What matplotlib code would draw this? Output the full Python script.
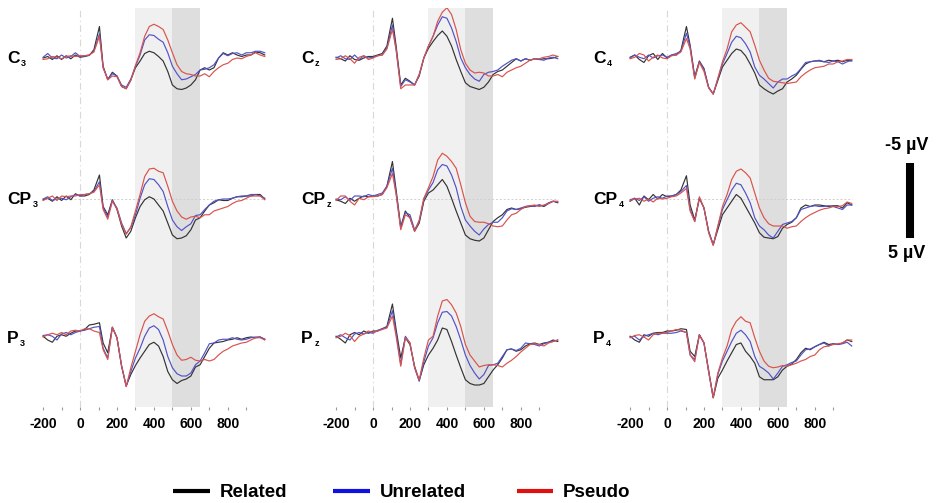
import numpy as np
import matplotlib
matplotlib.use("Agg")
import matplotlib.pyplot as plt
from matplotlib.lines import Line2D

# ---------------- data (µV, positive plotted downward) ----------------
times = [-200, -175, -150, -125, -100, -75, -50, -25, 0,
         25, 50, 75, 105, 125, 150, 175, 200, 225, 250, 275, 300,
         325, 350, 375, 400, 425, 450, 475, 500, 525, 550, 575, 600,
         625, 650, 675, 700, 725, 750, 775, 800, 825, 850, 875, 900,
         925, 950, 975, 1000]

C3_related = [0, -0.2, 0.2, -0.3, 0.2, -0.3, 0.1, -0.4, -0.1,
              -0.2, -0.35, -1.1, -4.2, 1.1, 2.9, 1.9, 2.4,
              3.8, 4.1, 2.9, 1.3, 0.4, -0.6, -0.9, -0.7,
              -0.2, 0.4, 1.8, 3.6, 4.1, 4.2, 4.0, 3.6,
              2.9, 1.6, 1.3, 1.6, 1.3, 0.0, -0.7, -0.4,
              -0.7, -0.4, -0.2, -0.4, -0.4, -0.8, -0.7, -0.4]
C3_unrelated = [-0.1, -0.6, 0.0, 0.1, -0.4, 0.0, -0.2, -0.7, -0.2,
                -0.3, -0.4, -0.9, -3.2, 1.3, 2.8, 2.1, 2.4,
                3.6, 3.9, 2.8, 1.1, -0.4, -2.4, -3.1, -3.0,
                -2.5, -2.1, -0.7, 1.1, 2.1, 2.9, 2.8, 2.5,
                2.2, 1.6, 1.5, 1.3, 0.9, 0.0, -0.6, -0.3,
                -0.6, -0.7, -0.4, -0.7, -0.7, -0.9, -0.9, -0.7]
C3_pseudo = [0.2, 0.1, -0.2, -0.1, 0.1, -0.2, -0.3, -0.2, -0.3,
             -0.3, -0.4, -0.8, -2.9, 1.3, 2.9, 2.4, 2.5,
             3.8, 4.1, 3.0, 1.0, -0.7, -2.9, -4.2, -4.5,
             -4.2, -3.8, -2.4, -0.7, 0.9, 1.8, 2.1, 2.2,
             2.4, 2.4, 2.1, 2.5, 1.8, 1.3, 0.9, 0.7,
             0.2, 0.0, 0.1, -0.2, -0.4, -0.7, -0.4, -0.2]

CP3_related = [0.1, -0.1, 0.3, -0.3, 0.2, -0.4, 0.1, -0.7, -0.4,
               -0.4, -0.6, -1.2, -3.2, 1.0, 2.1, 0.1, 1.4,
               3.6, 5.2, 4.3, 2.5, 1.0, 0.1, -0.3, 0.0,
               0.8, 1.6, 3.2, 4.8, 5.3, 5.2, 4.9, 4.1,
               2.8, 2.5, 1.6, 0.8, 0.5, 0.1, 0.2, 0.2,
               -0.1, -0.3, -0.3, -0.4, -0.4, -0.6, -0.6, 0.0]
CP3_unrelated = [0.0, -0.3, 0.2, 0.0, -0.1, 0.1, -0.3, -0.6, -0.4,
                 -0.6, -0.7, -1.0, -2.3, 1.2, 2.4, 0.2, 1.2,
                 3.2, 4.6, 3.8, 2.1, -0.1, -1.9, -2.7, -2.6,
                 -1.9, -1.0, 1.0, 2.8, 3.7, 4.2, 3.7, 3.3,
                 2.2, 2.1, 1.4, 0.8, 0.3, 0.1, 0.0, 0.0,
                 -0.1, -0.3, -0.4, -0.4, -0.6, -0.6, -0.4, -0.1]
CP3_pseudo = [0.2, -0.1, -0.4, 0.2, -0.4, -0.3, -0.4, -0.4, -0.6,
              -0.6, -0.7, -0.9, -1.9, 1.4, 2.7, 0.3, 1.3,
              3.4, 4.7, 3.7, 1.6, -0.6, -3.0, -4.0, -4.1,
              -3.7, -3.5, -1.7, 0.3, 1.6, 2.4, 2.7, 2.4,
              2.3, 2.5, 2.1, 2.1, 1.6, 1.4, 1.2, 1.0,
              0.6, 0.3, 0.2, -0.1, -0.4, -0.4, -0.4, 0.1]

P3_related = [-0.1, 0.4, 0.7, -0.1, -0.3, -0.1, -0.5, -0.8, -0.8,
              -1.0, -1.6, -1.7, -1.9, 0.8, 2.1, -1.3, 0.1,
              3.9, 6.5, 5.0, 3.8, 2.8, 1.9, 1.0, 0.7,
              1.2, 2.6, 4.6, 5.7, 6.2, 5.8, 5.6, 5.2,
              4.0, 3.7, 2.6, 1.5, 0.8, 0.7, 0.6, 0.4,
              0.3, 0.1, 0.3, 0.1, 0.0, 0.1, 0.0, 0.3]
P3_unrelated = [-0.2, -0.3, -0.1, 0.4, -0.4, -0.6, -0.3, -0.6, -0.8,
                -0.9, -1.1, -1.3, -1.4, 1.5, 2.8, -1.3, 0.1,
                3.9, 6.6, 4.6, 2.8, 1.5, -0.1, -1.2, -1.5,
                -1.0, 0.4, 2.6, 4.1, 4.9, 5.2, 5.2, 4.8,
                3.7, 3.2, 2.1, 0.9, 0.8, 0.4, 0.3, 0.3,
                0.1, 0.3, 0.4, 0.3, 0.1, 0.0, 0.0, 0.3]
P3_pseudo = [0.0, -0.3, -0.5, -0.3, -0.6, -0.3, -0.8, -0.9, -0.8,
             -1.1, -1.1, -0.8, -0.6, 1.7, 3.0, -1.3, 0.1,
             3.8, 6.6, 4.1, 1.9, -0.3, -2.1, -2.8, -3.1,
             -2.7, -2.4, -0.8, 1.0, 2.4, 3.1, 3.0, 2.7,
             3.1, 3.2, 3.0, 3.2, 3.0, 2.4, 1.9, 1.6,
             1.2, 1.0, 0.8, 0.7, 0.4, 0.1, 0.1, 0.4]

Cz_related = [-0.1, 0.1, 0.4, -0.3, 0.2, 0.3, 0.0, -0.2, -0.2,
              -0.4, -0.6, -1.6, -5.3, -1.6, 3.6, 2.7, 3.1,
              3.6, 2.4, 0.0, -1.3, -2.2, -3.0, -3.6, -2.9,
              -1.6, 0.2, 1.8, 3.3, 3.8, 4.0, 4.2, 3.9,
              3.2, 2.2, 1.8, 1.6, 1.1, 0.6, 0.1, 0.4,
              0.1, 0.3, 0.1, 0.2, 0.1, 0.1, 0.0, -0.2]
Cz_unrelated = [0.0, -0.3, 0.1, 0.2, -0.4, 0.2, -0.3, 0.0, -0.1,
                -0.3, -0.4, -1.3, -4.4, -1.1, 3.8, 2.9, 3.2,
                3.6, 2.2, 0.0, -1.6, -2.9, -4.4, -5.5, -5.3,
                -4.0, -2.2, 0.0, 1.3, 2.2, 2.8, 3.1, 2.2,
                1.9, 1.8, 1.6, 1.1, 0.7, 0.3, 0.1, 0.4,
                0.1, 0.3, 0.1, 0.2, 0.3, 0.0, -0.1, 0.1]
Cz_pseudo = [0.2, 0.1, -0.3, 0.1, 0.7, -0.1, -0.3, 0.2, 0.0,
             -0.3, -0.4, -1.2, -3.8, -1.1, 4.1, 3.6, 3.6,
             3.6, 2.2, 0.0, -1.6, -2.9, -4.9, -6.1, -6.7,
             -5.8, -3.8, -1.1, 0.7, 1.6, 2.0, 1.9, 2.0,
             2.4, 2.4, 2.2, 2.5, 1.9, 1.6, 1.3, 1.1,
             0.7, 0.3, 0.1, 0.1, -0.1, -0.2, -0.4, -0.2]

CPz_related = [0.1, 0.3, 0.6, -0.1, 0.3, -0.1, -0.4, -0.3, -0.4,
               -0.4, -0.6, -1.7, -5.0, -1.2, 3.7, 1.6, 2.5,
               4.3, 3.2, 0.3, -0.8, -1.2, -1.9, -2.6, -1.7,
               -0.1, 1.6, 3.2, 4.8, 5.3, 5.5, 5.6, 5.2,
               4.1, 3.0, 2.5, 2.1, 1.4, 1.2, 1.4, 1.3,
               1.1, 1.0, 0.9, 0.8, 1.0, 0.6, 0.3, 0.5]
CPz_unrelated = [0.0, 0.1, -0.3, 0.2, -0.4, -0.4, -0.3, -0.6, -0.4,
                 -0.6, -0.8, -1.7, -4.1, -0.8, 3.9, 1.8, 2.1,
                 4.1, 3.0, 0.0, -1.2, -2.2, -3.9, -4.6, -4.4,
                 -3.2, -1.5, 1.0, 2.8, 3.6, 4.3, 4.8, 4.0,
                 3.4, 3.1, 3.1, 2.5, 1.6, 1.3, 1.4, 1.2,
                 1.0, 0.9, 1.0, 0.8, 0.9, 0.5, 0.3, 0.4]
CPz_pseudo = [0.2, -0.4, -0.4, 0.3, 0.8, -0.1, 0.1, -0.3, -0.3,
              -0.4, -0.6, -1.5, -3.4, -0.6, 4.1, 2.1, 2.5,
              4.3, 2.8, -0.1, -1.5, -3.0, -5.2, -6.1, -5.7,
              -5.0, -4.1, -1.9, 0.5, 2.3, 3.0, 3.1, 3.1,
              3.3, 3.6, 3.7, 3.6, 2.8, 2.1, 1.9, 1.4,
              1.0, 0.9, 0.8, 1.0, 0.8, 0.6, 0.3, 0.3]

Pz_related = [-0.1, 0.3, 0.8, -0.3, -0.6, -0.3, -0.8, -0.5, -0.8,
              -0.8, -1.1, -1.4, -4.4, -1.0, 2.8, 0.1, 1.0,
              3.9, 5.8, 3.7, 2.4, 1.5, 0.4, -1.2, -1.0,
              0.6, 2.4, 4.1, 5.7, 6.2, 6.4, 6.4, 6.2,
              5.3, 4.4, 3.7, 2.8, 1.7, 1.6, 1.9, 1.7,
              1.2, 0.9, 0.8, 1.0, 0.8, 0.7, 0.4, 0.6]
Pz_unrelated = [0.0, -0.3, 0.1, 0.4, -0.4, -0.6, -0.4, -0.6, -0.5,
                -0.9, -1.1, -1.3, -3.5, -0.5, 3.7, -0.1, 0.8,
                4.1, 5.9, 3.3, 1.2, 0.1, -1.9, -3.3, -3.4,
                -2.8, -1.4, 0.4, 2.4, 3.8, 4.8, 5.6, 5.0,
                3.8, 3.7, 3.5, 2.6, 1.7, 1.6, 1.8, 1.5,
                0.8, 0.9, 1.0, 1.2, 0.9, 0.7, 0.6, 0.4]
Pz_pseudo = [0.1, -0.1, -0.5, -0.2, 0.6, -0.1, -0.4, -0.8, -0.6,
             -0.8, -1.0, -1.2, -2.8, -0.1, 3.9, 0.1, 0.8,
             4.1, 5.7, 2.8, 0.4, -0.1, -2.8, -4.8, -5.0,
             -4.3, -3.2, -1.4, 1.0, 2.4, 3.2, 4.0, 3.8,
             3.7, 3.7, 3.8, 4.0, 3.5, 3.1, 2.6, 2.0,
             1.5, 1.0, 0.9, 1.0, 1.2, 0.8, 0.6, 0.4]

C4_related = [-0.1, -0.4, 0.2, 0.6, -0.3, -0.6, 0.2, -0.6, 0.0,
              -0.4, -0.4, -1.0, -4.2, -1.7, 2.5, 0.4, 1.4,
              3.9, 4.8, 3.0, 1.2, 0.3, -0.6, -1.2, -1.0,
              -0.3, 0.8, 2.0, 3.6, 4.1, 4.5, 4.8, 4.4,
              4.1, 3.2, 2.8, 2.3, 1.5, 0.8, 0.5, 0.4,
              0.4, 0.5, 0.3, 0.4, 0.3, 0.5, 0.3, 0.4]
C4_unrelated = [0.0, -0.4, -0.1, 0.1, -0.4, 0.0, -0.3, -0.4, -0.1,
                -0.4, -0.6, -0.9, -3.3, -1.5, 2.7, 0.5, 1.5,
                3.9, 4.8, 2.8, 0.8, -0.6, -2.1, -2.9, -2.7,
                -1.9, -0.8, 1.2, 2.3, 2.8, 3.4, 4.0, 3.2,
                2.8, 2.8, 2.4, 2.1, 1.4, 0.6, 0.5, 0.4,
                0.3, 0.5, 0.6, 0.4, 0.5, 0.8, 0.5, 0.3]
C4_pseudo = [0.1, -0.1, -0.6, -0.4, 0.4, -0.1, -0.4, 0.0, 0.1,
             -0.3, -0.4, -0.8, -2.6, -1.2, 2.8, 0.6, 1.8,
             4.0, 4.8, 2.7, 0.5, -1.2, -3.5, -4.4, -4.7,
             -4.1, -3.5, -1.7, 0.3, 1.6, 2.7, 3.1, 3.2,
             3.3, 3.4, 3.3, 3.2, 2.5, 2.0, 1.6, 1.3,
             1.2, 1.1, 0.8, 0.8, 0.5, 0.4, 0.2, 0.2]

CP4_related = [0.3, -0.1, 0.8, -0.4, 0.1, -0.6, 0.0, -0.6, -0.3,
               -0.4, -0.6, -1.2, -3.1, 0.8, 2.8, -0.1, 1.2,
               4.3, 6.1, 4.1, 2.1, 1.2, 0.3, -0.6, -0.1,
               1.0, 2.1, 3.2, 4.5, 5.1, 5.2, 5.3, 5.0,
               3.9, 3.4, 3.1, 2.5, 1.2, 0.8, 1.0, 0.8,
               0.8, 0.9, 1.0, 0.9, 0.9, 1.2, 0.5, 0.8]
CP4_unrelated = [0.1, -0.1, 0.2, -0.3, 0.3, -0.1, -0.3, -0.1, -0.4,
                 -0.4, -0.6, -1.0, -1.8, 1.4, 3.0, -0.1, 1.2,
                 4.3, 6.1, 3.7, 1.4, 0.1, -1.2, -2.1, -1.9,
                 -0.8, 0.5, 2.5, 3.6, 4.1, 4.8, 5.2, 4.3,
                 3.4, 3.2, 3.0, 2.5, 1.4, 1.2, 1.0, 0.9,
                 1.0, 1.0, 0.9, 1.0, 1.2, 1.4, 0.8, 0.8]
CP4_pseudo = [0.2, 0.0, -0.1, 0.3, 0.0, 0.4, -0.1, 0.0, -0.1,
              -0.3, -0.4, -0.8, -1.4, 1.6, 3.0, -0.3, 1.2,
              4.5, 6.2, 3.6, 1.0, -0.6, -2.6, -3.7, -4.0,
              -3.5, -2.8, -0.8, 1.2, 2.5, 3.3, 3.6, 3.6,
              3.6, 3.9, 3.7, 3.6, 3.0, 2.5, 2.1, 1.8,
              1.5, 1.3, 1.2, 1.0, 1.0, 0.9, 0.4, 0.6]

P4_related = [-0.1, 0.4, 0.7, -0.3, -0.1, -0.5, -0.6, -0.6, -0.8,
              -0.8, -0.9, -1.1, -1.0, 1.9, 2.6, -0.3, 0.8,
              4.4, 8.1, 5.5, 4.4, 3.2, 2.1, 1.0, 0.8,
              1.9, 2.6, 3.5, 5.3, 5.7, 5.7, 5.7, 5.3,
              4.4, 3.9, 3.6, 3.0, 2.1, 1.5, 1.7, 1.3,
              1.0, 0.7, 1.0, 0.9, 1.0, 0.8, 0.4, 0.6]
P4_unrelated = [0.0, -0.1, 0.4, -0.1, -0.3, -0.5, -0.3, -0.5, -0.5,
                -0.5, -0.6, -0.8, -0.6, 2.4, 3.0, -0.3, 0.8,
                4.6, 8.1, 5.0, 3.2, 1.9, 0.6, -0.5, -0.9,
                -0.3, 0.6, 2.6, 3.9, 4.3, 4.8, 5.6, 4.8,
                3.9, 3.7, 3.4, 3.2, 2.4, 1.7, 1.6, 1.3,
                1.0, 0.8, 1.2, 0.9, 1.0, 0.9, 0.7, 1.2]
P4_pseudo = [0.1, -0.2, -0.3, 0.0, 0.4, -0.3, -0.5, -0.5, -0.6,
             -0.8, -1.0, -0.9, -0.6, 2.4, 3.3, -0.3, 0.8,
             4.6, 8.1, 4.8, 2.8, 1.2, -1.0, -2.1, -2.7,
             -2.1, -1.9, 0.1, 1.9, 3.2, 3.9, 4.1, 4.0,
             3.8, 3.9, 3.7, 3.5, 3.2, 3.0, 2.6, 2.4,
             1.7, 1.3, 1.2, 1.0, 0.9, 0.8, 0.4, 0.4]

conditions = ["Related", "Unrelated", "Pseudo"]
columns = [
    [("C", "3", C3_related, C3_unrelated, C3_pseudo),
     ("CP", "3", CP3_related, CP3_unrelated, CP3_pseudo),
     ("P", "3", P3_related, P3_unrelated, P3_pseudo)],
    [("C", "z", Cz_related, Cz_unrelated, Cz_pseudo),
     ("CP", "z", CPz_related, CPz_unrelated, CPz_pseudo),
     ("P", "z", Pz_related, Pz_unrelated, Pz_pseudo)],
    [("C", "4", C4_related, C4_unrelated, C4_pseudo),
     ("CP", "4", CP4_related, CP4_unrelated, CP4_pseudo),
     ("P", "4", P4_related, P4_unrelated, P4_pseudo)],
]
xticks = [-200, 0, 200, 400, 600, 800]
scale_labels = ["-5 µV", "5 µV"]

# ---------------- style ----------------
W, H = 938, 503
plt.rcParams['font.family'] = ['Liberation Sans', 'DejaVu Sans']
plt.rcParams['font.weight'] = 'bold'
plt.rcParams['axes.unicode_minus'] = False
line_colors = ['#333333', '#5252c8', '#d9534c']
legend_colors = ['#000000', '#1010e0', '#e01010']
light_shade = '#f0f0f0'
dark_shade = '#dedede'

fig = plt.figure(figsize=(W / 100, H / 100), dpi=100)
fig.patch.set_facecolor('white')

col_left = [39.4, 332.4, 626.4]
ax_w = 227.2
ax_top, ax_bot = 8, 407
row_base_px = [58, 199, 337]
px_per_uv = 7.5
offsets = [(b - row_base_px[0]) / px_per_uv for b in row_base_px]
y_top = (ax_top - row_base_px[0]) / px_per_uv
y_bot = (ax_bot - row_base_px[0]) / px_per_uv
xlim = (-220, 1010)

axes = []
for ci, col in enumerate(columns):
    ax = fig.add_axes([col_left[ci] / W, (H - ax_bot) / H, ax_w / W, (ax_bot - ax_top) / H])
    axes.append(ax)
    ax.set_xlim(*xlim)
    ax.set_ylim(y_bot, y_top)
    ax.axvspan(300, 500, color=light_shade, lw=0, zorder=0)
    ax.axvspan(500, 650, color=dark_shade, lw=0, zorder=0)
    ax.axvline(0, color='#d8d8d8', lw=0.8, ls=(0, (6, 3, 1, 3)), zorder=1)
    ax.hlines(offsets[1], -200, 1000, color='#cfcfcf', lw=0.7, ls=(0, (2, 2)), zorder=1)
    for ri, (name, sub, rel, unr, pse) in enumerate(col):
        for series, c in zip([rel, unr, pse], line_colors):
            ax.plot(times, np.array(series) + offsets[ri], color=c, lw=0.85, zorder=3)
    for s in ax.spines.values():
        s.set_visible(False)
    ax.set_yticks([])
    ax.set_xticks(xticks)
    ax.set_xticks(np.arange(-200, 1000, 100), minor=True)
    ax.tick_params(axis='x', which='both', length=2, width=0.8, color='#9a9a9a', direction='out')
    ax.tick_params(axis='x', which='major', pad=5, labelsize=10)
    for lab in ax.get_xticklabels():
        lab.set_fontweight('bold')

# channel labels
label_base_y = [63, 204, 343]
label_left = [7, 301, 593]
main_texts = []
for ci, col in enumerate(columns):
    for ri, (name, sub, *_ ) in enumerate(col):
        t = fig.text(label_left[ci] / W, 1 - label_base_y[ri] / H, name,
                     fontsize=12.5, fontweight='bold', ha='left', va='baseline')
        main_texts.append((t, sub, ri))
fig.canvas.draw()
renderer = fig.canvas.get_renderer()
for t, sub, ri in main_texts:
    bb = t.get_window_extent(renderer)
    fig.text((bb.x1 + 1.5) / W, (H - label_base_y[ri] - 3) / H, sub,
             fontsize=6.5, fontweight='bold', ha='left', va='baseline')

# scale bar in right axes data coordinates
axr = axes[2]
axr.plot([1315, 1315], [14, 24], color='black', lw=5.8, solid_capstyle='butt', clip_on=False)
axr.text(1299, 11.7, scale_labels[0], fontsize=13, fontweight='bold', ha='center', va='center', clip_on=False)
axr.text(1299, 26.0, scale_labels[1], fontsize=13, fontweight='bold', ha='center', va='center', clip_on=False)

# legend
leg_lines = [(173, 210), (333, 370), (517, 553)]
leg_text_x = [220, 380, 563]
for (x0, x1), tx, c, lab in zip(leg_lines, leg_text_x, legend_colors, conditions):
    fig.add_artist(Line2D([x0 / W, x1 / W], [1 - 491 / H, 1 - 491 / H], color=c, lw=3.0,
                          transform=fig.transFigure, solid_capstyle='butt'))
    fig.text(tx / W, 1 - 497 / H, lab, fontsize=13.5, fontweight='bold', ha='left', va='baseline')

fig.savefig('out.png', dpi=100, facecolor='white')
